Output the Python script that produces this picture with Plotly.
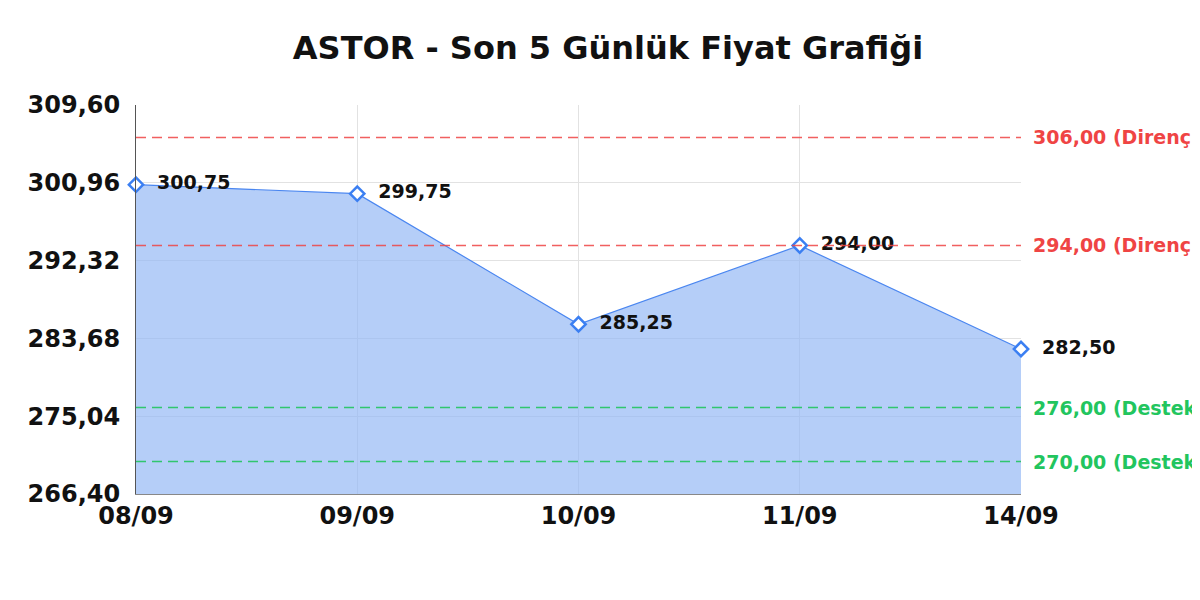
import plotly.graph_objects as go

dates = ["08/09", "09/09", "10/09", "11/09", "14/09"]
prices = [300.75, 299.75, 285.25, 294.00, 282.50]
price_labels = ["300,75", "299,75", "285,25", "294,00", "282,50"]
y_ticks = [266.40, 275.04, 283.68, 292.32, 300.96, 309.60]
y_tick_labels = ["266,40", "275,04", "283,68", "292,32", "300,96", "309,60"]
resistance = [306.00, 294.00]
resistance_labels = ["306,00 (Direnç)", "294,00 (Direnç)"]
support = [276.00, 270.00]
support_labels = ["276,00 (Destek)", "270,00 (Destek)"]

FONT = "DejaVu Sans"
fig = go.Figure()
fig.add_trace(go.Scatter(
    x=dates, y=prices, mode="lines+markers+text",
    text=["  " + t for t in price_labels], textposition="middle right",
    textfont=dict(family=FONT, size=19, color="#111111", weight="bold"),
    line=dict(color="#4a86f0", width=1.2),
    marker=dict(symbol="diamond", size=11, color="white", line=dict(color="#3b7ff2", width=2.5)),
    fill="tozeroy", fillcolor="rgba(150,185,245,0.7)",
    cliponaxis=False, showlegend=False,
))

shapes = []
annotations = []
for v, lab in zip(resistance, resistance_labels):
    shapes.append(dict(type="line", xref="paper", yref="y", x0=0, x1=1, y0=v, y1=v,
                       line=dict(color="rgba(239,68,68,0.85)", width=1.5, dash="10px,6px")))
    annotations.append(dict(xref="paper", yref="y", x=1, y=v, xanchor="left", xshift=10,
                            text=lab, showarrow=False,
                            font=dict(family=FONT, size=19, color="#ef4444", weight="bold")))
for v, lab in zip(support, support_labels):
    shapes.append(dict(type="line", xref="paper", yref="y", x0=0, x1=1, y0=v, y1=v,
                       line=dict(color="rgba(34,197,94,0.9)", width=1.5, dash="10px,6px")))
    annotations.append(dict(xref="paper", yref="y", x=1, y=v, xanchor="left", xshift=10,
                            text=lab, showarrow=False,
                            font=dict(family=FONT, size=19, color="#22c55e", weight="bold")))

fig.update_layout(
    width=1200, height=600,
    margin=dict(l=128, r=187, t=97, b=114),
    paper_bgcolor="white", plot_bgcolor="white",
    title=dict(text="ASTOR - Son 5 Günlük Fiyat Grafiği", x=0.5, xanchor="center",
               y=1 - 40 / 600, yanchor="middle",
               font=dict(family=FONT, size=32, color="#111111", weight="bold")),
    shapes=shapes, annotations=annotations,
    font=dict(family=FONT),
)
fig.update_xaxes(
    type="category", range=[0, 4], showgrid=True, gridcolor="#e2e2e2", gridwidth=1,
    showline=True, linecolor="#888888", linewidth=1,
    tickfont=dict(family=FONT, size=24, color="#111111", weight="bold"),
    ticks="", zeroline=False,
)
fig.update_yaxes(
    range=[266.40, 309.60], tickvals=y_ticks, ticktext=y_tick_labels,
    showgrid=True, gridcolor="#e2e2e2", gridwidth=1,
    showline=True, linecolor="#555555", linewidth=1, mirror=False,
    tickfont=dict(family=FONT, size=24, color="#111111", weight="bold"),
    ticks="", zeroline=False, ticklabelstandoff=10,
)
fig.write_html("out.html")
